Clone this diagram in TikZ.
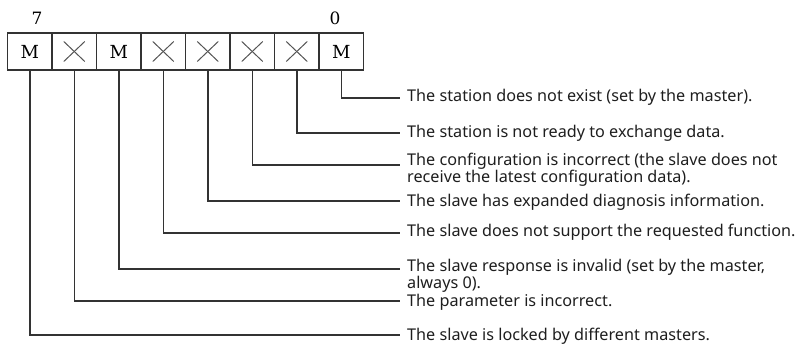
\documentclass[tikz,border=0pt]{standalone}
\usepackage{fontspec}
\setmainfont{Noto Sans}
\newfontfamily\bitfont{DejaVu Serif}
\usetikzlibrary{positioning}
\definecolor{lineclr}{HTML}{333333}
\definecolor{crossclr}{HTML}{555555}
\definecolor{txtclr}{HTML}{1E1E1E}

\begin{document}
\begin{tikzpicture}[x=1pt,y=-1pt,
    bitcell/.style={draw=lineclr,line width=1.4pt,minimum width=44.5pt,minimum height=37pt,
      inner sep=0pt,outer sep=0pt,font=\bitfont\fontsize{18}{18}\selectfont},
    bitnum/.style={inner sep=0pt,font=\bitfont\fontsize{17}{17}\selectfont},
    cross/.style={draw=crossclr,line width=1pt},
    lead/.style={draw=lineclr,line width=1.5pt},
    desc/.style={anchor=west,align=left,inner sep=0pt,text=txtclr,
      font=\fontsize{16.2}{17}\selectfont}]
  \useasboundingbox (0,0) rectangle (800,345);

  % the status byte, bit 7 on the left
  \foreach \b/\t in {7/M,6/,5/M,4/,3/,2/,1/,0/M}
    \node[bitcell] (b\b) at ({29.75+44.5*(7-\b)},51.5) {\t};
  \foreach \b in {6,4,3,2,1} {
    \draw[cross] ([shift={(-10.5,-10)}]b\b.center) -- ([shift={(10.5,10)}]b\b.center);
    \draw[cross] ([shift={(-10.5,10)}]b\b.center) -- ([shift={(10.5,-10)}]b\b.center);
  }
  \node[bitnum] (n7) at (37,18) {7};
  \node[bitnum] (n0) at (335,18) {0};

  % meaning of each bit
  \node[desc] (t0) at (407,97) {The station does not exist (set by the master).};
  \node[desc] (t1) at (407,133) {The station is not ready to exchange data.};
  \node[desc] (t2) at (407,170) {The configuration is incorrect (the slave does not\\receive the latest configuration data).};
  \node[desc] (t3) at (407,202) {The slave has expanded diagnosis information.};
  \node[desc] (t4) at (407,232) {The slave does not support the requested function.};
  \node[desc] (t5) at (407,276) {The slave response is invalid (set by the master,\\always 0).};
  \node[desc] (t6) at (407,302) {The parameter is incorrect.};
  \node[desc] (t7) at (407,336) {The slave is locked by different masters.};

  \foreach \b/\y in {0/98,1/133,2/165,3/201,4/233,5/269,6/301,7/335} {
    \coordinate (e\b) at (400,\y);
    \draw[lead] (b\b.south) |- (e\b);
  }
\end{tikzpicture}
\end{document}
